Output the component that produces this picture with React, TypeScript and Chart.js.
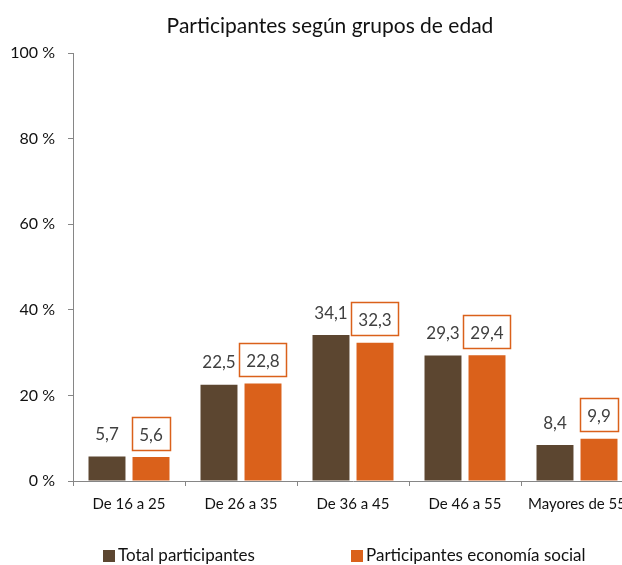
import React, { useEffect, useRef } from "react";
import { Chart, registerables } from "chart.js";

Chart.register(...registerables);

const TITLE = "Participantes según grupos de edad";
const categories = ["De 16 a 25", "De 26 a 35", "De 36 a 45", "De 46 a 55", "Mayores de 55"];
const totalParticipantes = [5.7, 22.5, 34.1, 29.3, 8.4];
const participantesEconomiaSocial = [5.6, 22.8, 32.3, 29.4, 9.9];
const seriesLabels = ["Total participantes", "Participantes economía social"];
const yTickValues = [0, 20, 40, 60, 80, 100];

const BROWN = "#5C4630";
const ORANGE = "#DA611B";
const AXIS = "#868686";
const FONT = "Lato, Carlito, sans-serif";

const fmt = (v: number) => v.toFixed(1).replace(".", ",");

const decorPlugin = {
  id: "decor",
  afterDatasetsDraw(chart: any) {
    const ctx = chart.ctx as CanvasRenderingContext2D;
    ctx.save();
    // value labels
    ctx.font = `17px ${FONT}`;
    ctx.textAlign = "center";
    ctx.textBaseline = "middle";
    chart.data.datasets.forEach((ds: any, i: number) => {
      const meta = chart.getDatasetMeta(i);
      meta.data.forEach((bar: any, j: number) => {
        const text = fmt(ds.data[j]);
        const x = bar.x;
        const y = bar.y - 22;
        ctx.fillStyle = "#404040";
        ctx.fillText(text, x, y);
        if (i === 1) {
          const w = ctx.measureText(text).width + 14;
          const h = 33;
          ctx.strokeStyle = ORANGE;
          ctx.lineWidth = 1.5;
          ctx.strokeRect(Math.round(x - w / 2) + 0.5, Math.round(y - h / 2 - 2) + 0.5, Math.round(w), h);
        }
      });
    });
    ctx.restore();
  },
  afterDraw(chart: any) {
    const ctx = chart.ctx as CanvasRenderingContext2D;
    ctx.save();
    // title
    ctx.font = `21px ${FONT}`;
    ctx.fillStyle = "#111";
    ctx.textAlign = "center";
    ctx.textBaseline = "middle";
    ctx.fillText(TITLE, 330, 26);
    // legend
    ctx.font = `17px ${FONT}`;
    ctx.textAlign = "left";
    const items = [
      { x: 103, color: BROWN, label: seriesLabels[0] },
      { x: 351, color: ORANGE, label: seriesLabels[1] },
    ];
    items.forEach((it) => {
      ctx.fillStyle = it.color;
      ctx.fillRect(it.x, 550, 12, 12);
      ctx.fillStyle = "#111";
      ctx.fillText(it.label, it.x + 15, 556);
    });
    ctx.restore();
  },
};

export default function App() {
  const ref = useRef<HTMLCanvasElement>(null);
  useEffect(() => {
    if (!ref.current) return;
    const chart = new Chart(ref.current, {
      type: "bar",
      data: {
        labels: categories,
        datasets: [
          {
            label: seriesLabels[0],
            data: totalParticipantes,
            backgroundColor: BROWN,
            categoryPercentage: 0.786,
            barPercentage: 0.84,
          },
          {
            label: seriesLabels[1],
            data: participantesEconomiaSocial,
            backgroundColor: ORANGE,
            categoryPercentage: 0.786,
            barPercentage: 0.84,
          },
        ],
      },
      options: {
        responsive: false,
        animation: false,
        layout: { padding: { top: 53, right: 7, left: 0, bottom: 0 } },
        plugins: {
          legend: { display: false },
          title: { display: false },
          tooltip: { enabled: false },
        },
        scales: {
          x: {
            grid: {
              offset: true,
              drawOnChartArea: false,
              drawTicks: true,
              tickLength: 5,
              color: AXIS,
            },
            border: { color: AXIS, width: 1 },
            ticks: {
              font: { family: FONT, size: 15 },
              color: "#111",
              padding: 9,
              maxRotation: 0,
              autoSkip: false,
            },
            afterFit: (s: any) => {
              s.height = 84;
            },
          },
          y: {
            min: 0,
            max: 100,
            afterBuildTicks: (s: any) => {
              s.ticks = yTickValues.map((v) => ({ value: v }));
            },
            ticks: {
              font: { family: FONT, size: 16 },
              color: "#111",
              padding: 13,
              callback: (v: any) => `${v} %`,
            },
            grid: {
              drawOnChartArea: false,
              drawTicks: true,
              tickLength: 5,
              color: AXIS,
            },
            border: { color: AXIS, width: 1 },
            afterFit: (s: any) => {
              s.width = 73;
            },
          },
        },
      },
      plugins: [decorPlugin],
    });
    return () => chart.destroy();
  }, []);
  return (
    <div style={{ position: "fixed", left: 0, top: 0, width: 622, height: 565, overflow: "hidden", background: "#fff" }}>
      <canvas ref={ref} width={640} height={565} style={{ display: "block" }} />
    </div>
  );
}
